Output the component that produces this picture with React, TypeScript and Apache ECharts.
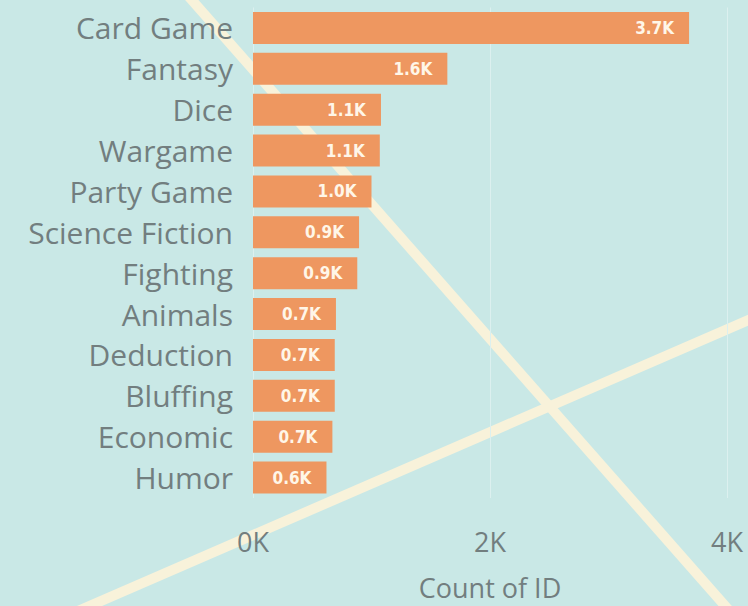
import React, { useEffect, useRef } from "react";
import * as echarts from "echarts";

const categories = [
  "Card Game",
  "Fantasy",
  "Dice",
  "Wargame",
  "Party Game",
  "Science Fiction",
  "Fighting",
  "Animals",
  "Deduction",
  "Bluffing",
  "Economic",
  "Humor",
];
const counts = [3680, 1640, 1080, 1070, 1000, 895, 880, 700, 690, 690, 670, 620];
const xTicks = [0, 2000, 4000];
const axisTitle = "Count of ID";

export default function App() {
  const ref = useRef<HTMLDivElement>(null);
  useEffect(() => {
    if (!ref.current) return;
    const chart = echarts.init(ref.current, null, { renderer: "svg" });
    const cream = "#f8f2da";
    chart.setOption({
      animation: false,
      backgroundColor: "#c9e8e6",
      graphic: [
        {
          type: "line",
          z: -10,
          silent: true,
          shape: { x1: 183, y1: -10, x2: 734, y2: 616 },
          style: { stroke: cream, lineWidth: 10 },
        },
        {
          type: "line",
          z: -10,
          silent: true,
          shape: { x1: 78, y1: 611, x2: 760, y2: 315 },
          style: { stroke: cream, lineWidth: 10 },
        },
      ],
      grid: { left: 253, right: 21, top: 7.5, bottom: 104.5 },
      xAxis: {
        type: "value",
        min: xTicks[0],
        max: xTicks[xTicks.length - 1],
        interval: xTicks[1] - xTicks[0],
        axisLine: { show: false },
        axisTick: { show: false },
        splitLine: { show: true, lineStyle: { color: "#dcf0ef", width: 1 } },
        axisLabel: {
          formatter: (v: number) => v / 1000 + "K",
          color: "#727e7f",
          fontFamily: "Open Sans",
          fontSize: 27,
          margin: 30,
        },
        name: axisTitle,
        nameLocation: "middle",
        nameGap: 76,
        nameTextStyle: {
          color: "#727e7f",
          fontFamily: "Open Sans",
          fontSize: 27,
        },
      },
      yAxis: {
        type: "category",
        data: categories,
        inverse: true,
        axisLine: { show: false },
        axisTick: { show: false },
        splitLine: { show: false },
        axisLabel: {
          color: "#727e7f",
          fontFamily: "Open Sans",
          fontSize: 30,
          margin: 20,
        },
      },
      series: [
        {
          type: "bar",
          data: counts,
          barWidth: 32,
          itemStyle: { color: "#ee9760" },
          label: {
            show: true,
            position: "insideRight",
            distance: 15,
            formatter: (p: any) => (p.value / 1000).toFixed(1) + "K",
            color: "#fff6e8",
            fontFamily: "DejaVu Sans Condensed, DejaVu Sans",
            fontWeight: "bold",
            fontSize: 17,
          },
        },
      ],
    });
    return () => chart.dispose();
  }, []);
  return (
    <div
      ref={ref}
      style={{ position: "fixed", left: 0, top: 0, width: 748, height: 606 }}
    />
  );
}
